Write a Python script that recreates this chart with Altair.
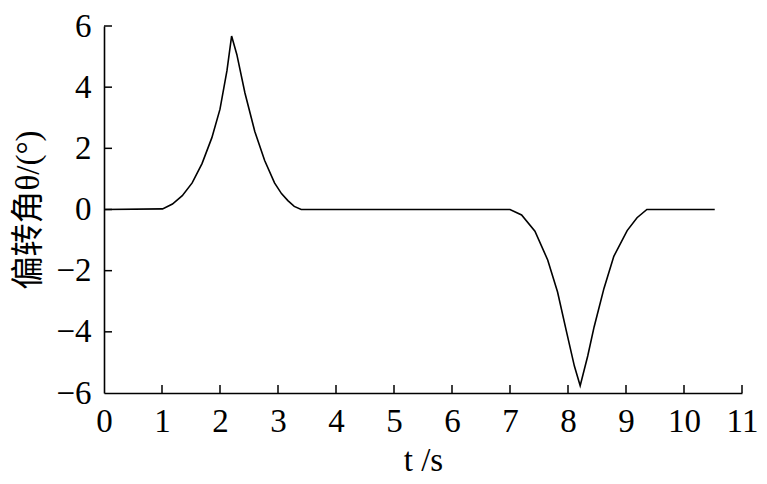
import altair as alt
import pandas as pd

# curve
t_vals = [0.0, 1.01, 1.18, 1.35, 1.52, 1.69, 1.86, 2.0, 2.12, 2.2,
          2.29, 2.43, 2.6, 2.77, 2.94, 3.06, 3.17, 3.28, 3.4,
          7.0, 7.2, 7.43, 7.65, 7.82, 7.97, 8.11, 8.21,
          8.34, 8.45, 8.62, 8.79, 9.02, 9.19, 9.36, 10.53]
v_vals = [0.0, 0.02, 0.18, 0.45, 0.87, 1.5, 2.35, 3.28, 4.54, 5.67,
          5.07, 3.81, 2.55, 1.6, 0.87, 0.52, 0.29, 0.1, 0.0,
          0.0, -0.18, -0.71, -1.65, -2.7, -3.96, -5.12, -5.76,
          -4.79, -3.84, -2.58, -1.53, -0.69, -0.27, 0.0, 0.0]

x_ticks = [0, 1, 2, 3, 4, 5, 6, 7, 8, 9, 10, 11]
y_ticks = [-6, -4, -2, 0, 2, 4, 6]

W, H = 638, 367
FONT = "Liberation Serif"

curve = pd.DataFrame({"t": t_vals, "v": v_vals})
xt = pd.DataFrame({"t": x_ticks[1:]})
yt = pd.DataFrame({"v": y_ticks[1:]})

x_enc = alt.X("t:Q", scale=alt.Scale(domain=[0, 11], nice=False),
              axis=alt.Axis(values=x_ticks, title="t /s", format="d"))
y_enc = alt.Y("v:Q", scale=alt.Scale(domain=[-6, 6], nice=False),
              axis=alt.Axis(values=y_ticks, title="偏转角θ/(°)", format="d"))

line = alt.Chart(curve).mark_line(color="black", strokeWidth=1.6).encode(x=x_enc, y=y_enc)
xtick = alt.Chart(xt).mark_rule(color="black", strokeWidth=1.5).encode(
    x=x_enc, y=alt.value(H), y2=alt.value(H - 8))
ytick = alt.Chart(yt).mark_rule(color="black", strokeWidth=1.5).encode(
    y=y_enc, x=alt.value(0), x2=alt.value(8))

chart = alt.layer(line, xtick, ytick).properties(
    width=W, height=H,
    autosize=alt.AutoSizeParams(type="none"),
    padding={"left": 96, "top": 18, "right": 16, "bottom": 88},
).configure_view(stroke=None).configure_axis(
    grid=False, ticks=False, domainColor="black", domainWidth=1.6,
    labelFont=FONT, labelFontSize=33, labelColor="black",
    titleFont=FONT + ", Noto Sans CJK SC", titleFontSize=33, titleColor="black",
    titleFontWeight="normal",
).configure_axisX(labelPadding=12, titlePadding=6, labelFlush=False) \
 .configure_axisY(labelPadding=13, titlePadding=10)

chart.save("out.html", embed_options={"renderer": "svg", "actions": False})
